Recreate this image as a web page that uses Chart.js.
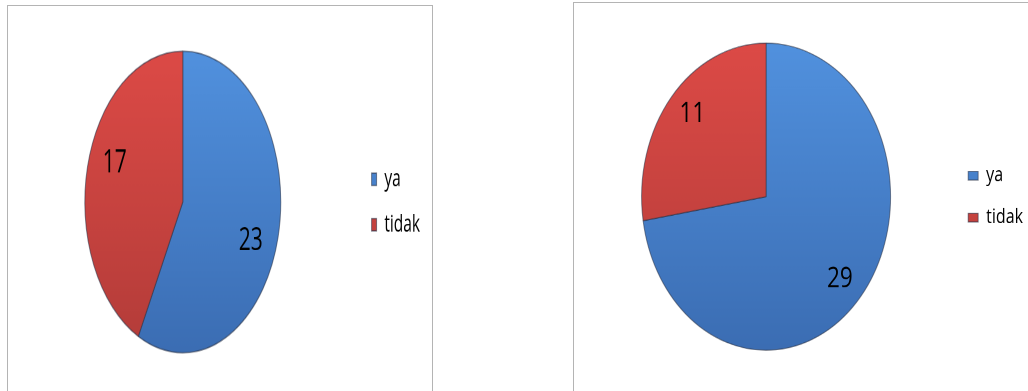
<!DOCTYPE html>
<html>
<head>
<meta charset="utf-8">
<script src="https://cdn.jsdelivr.net/npm/chart.js@4/dist/chart.umd.min.js"></script>
<style>
    html, body { margin: 0; padding: 0; background: #fff; }
    body { width: 1028px; height: 391px; position: relative; overflow: hidden; }
    .frame { position: absolute; border: 1px solid #b4b4b4; border-bottom: none; box-sizing: border-box; }
    .holder { position: absolute; top: 0; transform-origin: 0 0; }
</style>
</head>
<body>
<div class="frame" style="left:7px; top:5px; width:426px; height:400px;"></div>
<div class="frame" style="left:573px; top:2px; width:470px; height:400px;"></div>

<div class="holder" id="holderA" style="left:0px; width:437px;"><canvas id="pieA"></canvas></div>
<div class="holder" id="holderB" style="left:573px; width:460px;"><canvas id="pieB"></canvas></div>

<script>
// answer categories and counts for the two questions
const categories = ['ya', 'tidak'];
const valuesA = [23, 17];
const valuesB = [29, 11];

const sliceColors = {
    ya: ['#5191de', '#3b6db3'],
    tidak: ['#dc4a46', '#b33c39']
};

// each pie is drawn round and then stretched vertically by this factor
const stretchA = 1.536;
const stretchB = 1.233;

// vertical gradient per slice, spanning the pie's height
const sliceFill = (context) => {
    const chart = context.chart;
    const pair = sliceColors[categories[context.dataIndex]];
    const area = chart.chartArea;
    if (!area) return pair[0];
    const cy = (area.top + area.bottom) / 2;
    const r = chart.options.radius;
    const g = chart.ctx.createLinearGradient(0, cy - r, 0, cy + r);
    g.addColorStop(0, pair[0]);
    g.addColorStop(1, pair[1]);
    return g;
};

// value labels placed inside each slice along its middle angle
const sliceValues = {
    id: 'sliceValues',
    afterDatasetsDraw(chart, args, opts) {
        const ctx = chart.ctx;
        const meta = chart.getDatasetMeta(0);
        const data = chart.data.datasets[0].data;
        ctx.save();
        ctx.font = opts.size + 'px "Open Sans"';
        ctx.fillStyle = '#000';
        ctx.textAlign = 'center';
        ctx.textBaseline = 'middle';
        meta.data.forEach((arc, i) => {
            const mid = (arc.startAngle + arc.endAngle) / 2 + opts.turn;
            const r = arc.outerRadius * opts.distance;
            ctx.fillText(String(data[i]), arc.x + Math.cos(mid) * r, arc.y + Math.sin(mid) * r);
        });
        ctx.restore();
    }
};

function makePie(canvasId, holderId, values, stretch, cfg) {
    const holder = document.getElementById(holderId);
    holder.style.height = (391 / stretch) + 'px';
    holder.style.transform = 'scaleY(' + stretch + ')';

    return new Chart(document.getElementById(canvasId), {
        type: 'pie',
        data: {
            labels: categories,
            datasets: [{
                data: values,
                backgroundColor: sliceFill,
                borderColor: 'rgba(40, 50, 70, 0.55)',
                borderWidth: 1
            }]
        },
        options: {
            responsive: true,
            maintainAspectRatio: false,
            animation: false,
            devicePixelRatio: 2,
            radius: cfg.radius,
            layout: { padding: cfg.padding },
            plugins: {
                tooltip: { enabled: false },
                legend: {
                    position: 'right',
                    labels: {
                        boxWidth: cfg.boxWidth,
                        boxHeight: cfg.boxHeight,
                        padding: cfg.legendGap,
                        color: '#000',
                        font: { family: '"Open Sans"', size: cfg.legendSize }
                    }
                },
                sliceValues: { size: cfg.valueSize, distance: cfg.distance, turn: cfg.turn }
            }
        },
        plugins: [sliceValues]
    });
}

makePie('pieA', 'holderA', valuesA, stretchA, {
    radius: 98,
    padding: { left: 8, right: 7, top: 8, bottom: 0 },
    boxWidth: 5, boxHeight: 8, legendGap: 14, legendSize: 15.5,
    valueSize: 21, distance: 0.74, turn: 0.12
});

makePie('pieB', 'holderB', valuesB, stretchB, {
    radius: 124.5,
    padding: { left: 9, right: 0, top: 2, bottom: 0 },
    boxWidth: 10, boxHeight: 7, legendGap: 18, legendSize: 16,
    valueSize: 22.5, distance: 0.8, turn: 0.03
});
</script>
</body>
</html>
